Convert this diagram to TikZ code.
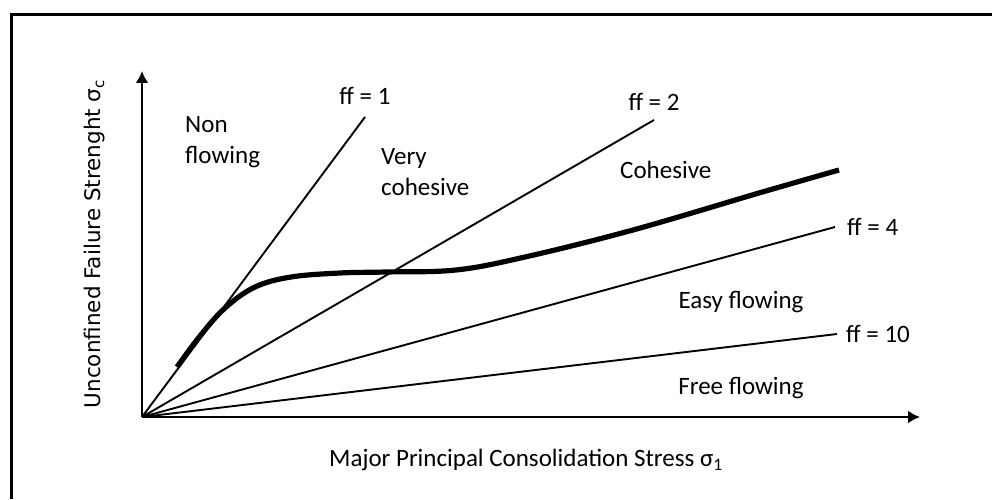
\documentclass[tikz,border=0pt]{standalone}
\usepackage{fontspec}
\setmainfont{Carlito}
\newfontfamily\axisfont{DejaVu Sans}
\usetikzlibrary{arrows.meta,positioning}

\begin{document}
\begin{tikzpicture}[x=1pt, y=1pt,
    txt/.style = {font=\fontsize{25}{31}\selectfont, inner sep=0pt, align=left},
    line/.style = {draw, line width=1.9pt},
    axis/.style = {draw, line width=2.8pt, -{Latex[length=12pt,width=13pt]}},
    yield/.style = {draw, line width=5.2pt}]

  \useasboundingbox (0,0) rectangle (992,499);
  \draw [line width=3pt] (11,0) -- (11,484) -- (992,484);

  \coordinate (o) at (142,82);
  \coordinate (ytip) at (142,428);
  \coordinate (xtip) at (920,82);
  \coordinate (e1) at (365,382);
  \coordinate (e2) at (654,379);
  \coordinate (e4) at (835,272);
  \coordinate (e10) at (837,165);

  \node[txt, above=12pt of e1] (ff1) {ff = 1};
  \node[txt, above=9pt of e2] (ff2) {ff = 2};
  \node[txt, right=12pt of e4] (ff4) {ff = 4};
  \node[txt, right=9pt of e10] (ff10) {ff = 10};

  \node[txt, anchor=west] (nonflow) at (185,357) {Non\\flowing};
  \node[txt, anchor=west] (verycoh) at (381,327) {Very\\cohesive};
  \node[txt, anchor=west] (coh) at (620,329) {Cohesive};
  \node[txt] (easy) at (741,197) {Easy flowing};
  \node[txt] (free) at (741,111) {Free flowing};

  \node[txt] (xlab) at (526,39) {Major Principal Consolidation Stress σ\textsubscript{1}};
  \node[inner sep=0pt, rotate=90, font=\axisfont\fontsize{21.5}{26}\selectfont] (ylab) at (95,255)
    {Unconfined Failure Strenght σ\textsubscript{c}};

  \draw [line] (o) -- (e1);
  \draw [line] (o) -- (e2);
  \draw [line] (o) -- (e4);
  \draw [line] (o) -- (e10);

  % yield locus
  \draw [yield] plot[smooth, tension=0.6] coordinates {(177,132) (200,163) (225,191)
    (255,212) (291,222) (340,226) (386,227) (456,229) (525,242) (633,269)
    (759,306) (839,329)};

  \draw [axis] (o) -- (ytip);
  \draw [axis] (o) -- (xtip);

\end{tikzpicture}
\end{document}
